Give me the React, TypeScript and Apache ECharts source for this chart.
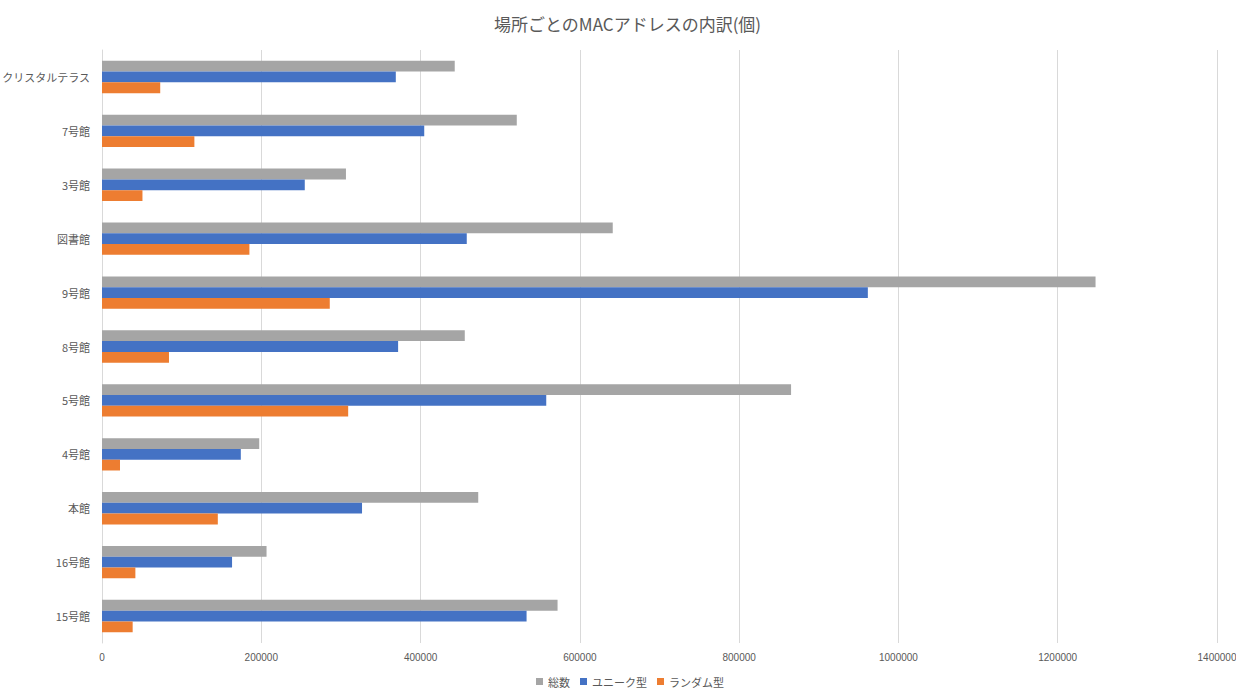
import React, { useEffect, useRef } from "react";
import * as echarts from "echarts";

const categories = ["15号館", "16号館", "本館", "4号館", "5号館", "8号館", "9号館", "図書館", "3号館", "7号館", "クリスタルテラス"];
const totalValues = [572000, 206600, 472400, 197400, 865200, 455500, 1247500, 641300, 306300, 520800, 442900];
const uniqueValues = [533100, 163300, 326500, 174300, 557800, 371800, 961600, 458000, 254600, 404600, 368900];
const randomValues = [38500, 41900, 145400, 22600, 309100, 84100, 286000, 185100, 50800, 116000, 73100];
const xTicks = { min: 0, max: 1400000, interval: 200000 };

const FONT = "'Noto Sans CJK JP', 'Noto Sans', sans-serif";

export default function App() {
  const ref = useRef<HTMLDivElement>(null);
  useEffect(() => {
    if (!ref.current) return;
    const chart = echarts.init(ref.current, null, { renderer: "svg" });
    chart.setOption({
      animation: false,
      backgroundColor: "#ffffff",
      title: {
        text: "場所ごとのMACアドレスの内訳(個)",
        left: 489,
        top: 10,
        textStyle: { fontFamily: FONT, fontSize: 17, fontWeight: "normal", color: "#595959" },
      },
      legend: {
        data: ["総数", "ユニーク型", "ランダム型"],
        top: 674,
        left: 534,
        padding: 2,
        icon: "rect",
        itemWidth: 7,
        itemHeight: 7,
        itemGap: 10,
        textStyle: { fontFamily: FONT, fontSize: 11, color: "#595959" },
      },
      grid: { left: 102, right: 19, top: 50, bottom: 47, containLabel: false, outerBoundsMode: "none" },
      xAxis: {
        type: "value",
        min: xTicks.min,
        max: xTicks.max,
        interval: xTicks.interval,
        axisLine: { show: false },
        axisTick: { show: false },
        axisLabel: {
          fontFamily: "'Liberation Sans', sans-serif",
          fontSize: 10,
          color: "#595959",
          margin: 9,
          formatter: (v: number) => String(v),
        },
        splitLine: { lineStyle: { color: "#D9D9D9", width: 1 } },
      },
      yAxis: {
        type: "category",
        data: categories,
        axisLine: { show: true, lineStyle: { color: "#D9D9D9" } },
        axisTick: { show: false },
        axisLabel: { fontFamily: FONT, fontSize: 11, color: "#595959", margin: 12 },
      },
      series: [
        { name: "総数", type: "bar", data: totalValues, itemStyle: { color: "#A5A5A5" }, barGap: "0%", barCategoryGap: "40%" },
        { name: "ユニーク型", type: "bar", data: uniqueValues, itemStyle: { color: "#4472C4" }, barGap: "0%", barCategoryGap: "40%" },
        { name: "ランダム型", type: "bar", data: randomValues, itemStyle: { color: "#ED7D31" }, barGap: "0%", barCategoryGap: "40%" },
      ],
    });
    return () => chart.dispose();
  }, []);
  return <div ref={ref} style={{ position: "fixed", left: 0, top: 0, width: 1236, height: 690 }} />;
}
